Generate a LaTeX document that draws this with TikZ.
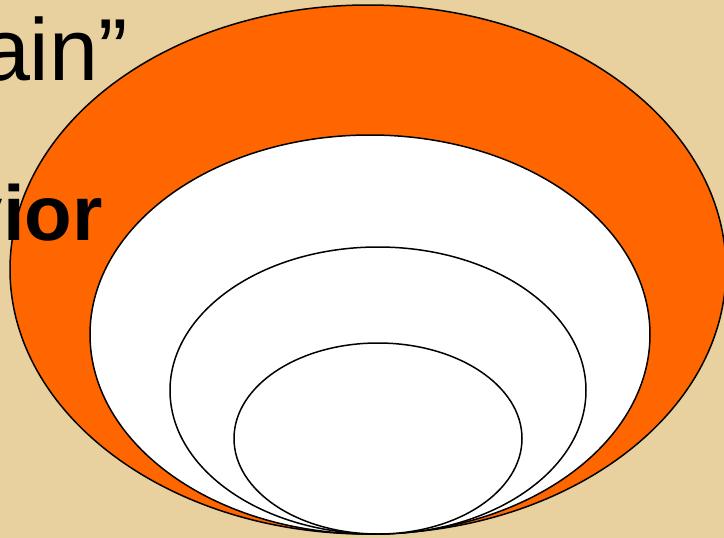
\documentclass[tikz,border=0pt]{standalone}
\usepackage{fontspec}
\setmainfont{Liberation Sans}
\definecolor{parchment}{RGB}{232,209,158}
\definecolor{ringorange}{RGB}{255,102,0}
\tikzset{
  ring/.style={draw=black, line width=1.5pt},
  bigword/.style={inner sep=0pt, anchor=base east}
}
\begin{document}
\begin{tikzpicture}[x=1pt, y=-1pt]
    % Page and background
    \useasboundingbox (0,0) rectangle (724,538);
    \clip (0,0) rectangle (724,538);
    \fill[parchment] (0,0) rectangle (724,538);

    % Nested ellipses, all touching at the bottom
    \draw[ring, fill=ringorange] (368,269.5) ellipse [x radius=358, y radius=264.5];
    \draw[ring, fill=white] (370,334.5) ellipse [x radius=280, y radius=199.5];
    \draw[ring, fill=white] (378,390.5) ellipse [x radius=208, y radius=143.5];
    \draw[ring, fill=white] (378,438.5) ellipse [x radius=144, y radius=95.5];

    % Text cut by the left edge
    \node[bigword] (ain) at (128,80) {\fontsize{88}{100}\selectfont ain”};
    \node[bigword] (vior) at (103,240) {\fontsize{78}{90}\selectfont\bfseries vior};
\end{tikzpicture}
\end{document}
